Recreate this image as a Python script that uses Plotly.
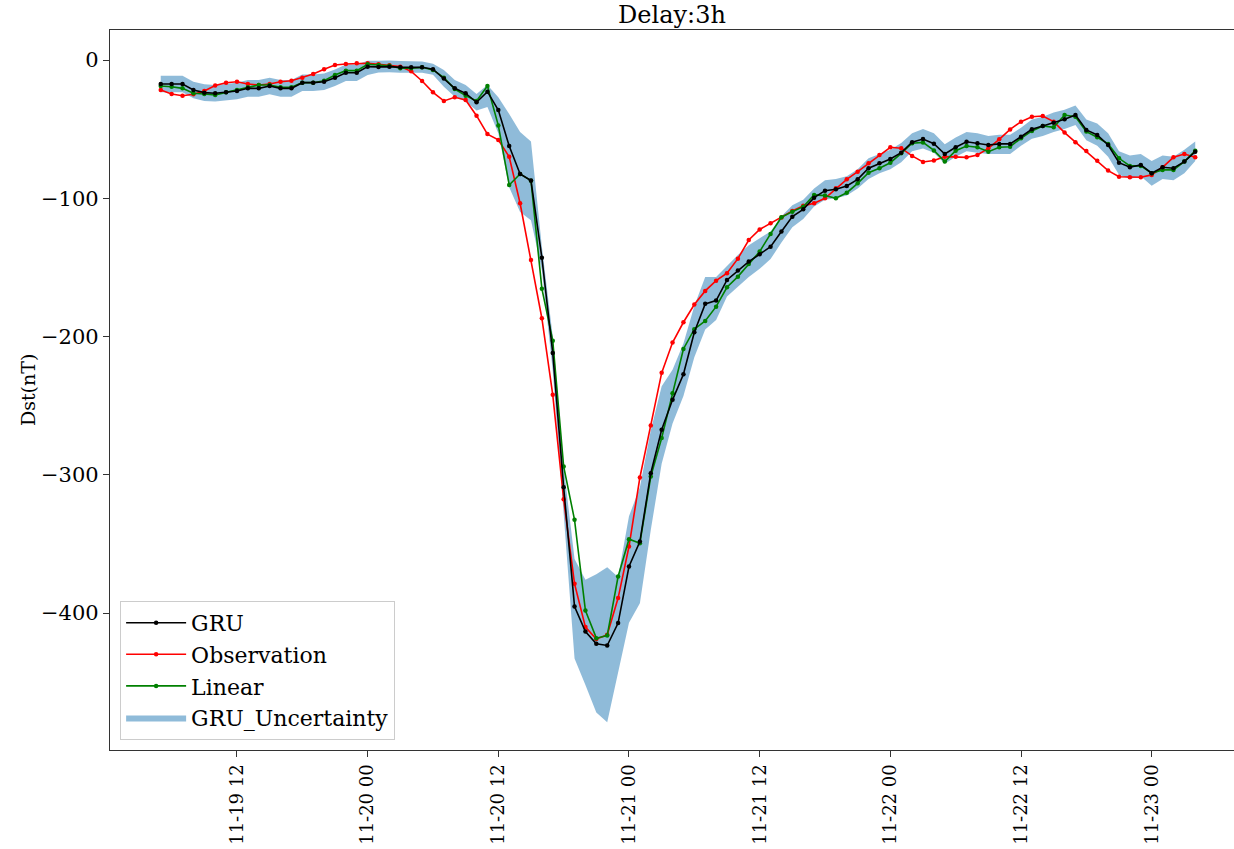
import pandas as pd
import plotly.graph_objects as go

# ---- data (hourly, starting 2003-11-19 05:00) ----
start_time = "2003-11-19 05:00"
n_hours = 96

gru = [
    -17.4, -17.4, -17.4, -21.7, -23.6, -24.1, -23.4, -22.4, -20.5, -20.5,
    -18.8, -20.5, -20.5, -16.4, -16.4, -15.7, -12.8, -9.2, -9.2, -4.8,
    -5.0, -4.8, -5.3, -5.3, -5.3, -6.7, -13.3, -20.5, -24.1, -30.6,
    -22.9, -36.2, -62.2, -82.4, -87.2, -143.0, -212.0, -309.0, -395.3, -413.4,
    -422.3, -423.5, -407.3, -366.4, -348.3, -298.9, -267.5, -245.8, -227.3, -196.9,
    -176.4, -174.0, -159.1, -152.3, -145.8, -140.5, -135.0, -124.0, -113.3, -108.0,
    -99.6, -94.5, -93.5, -91.1, -86.3, -78.3, -74.7, -71.6, -67.0, -59.5,
    -57.2, -60.5, -68.0, -63.1, -59.1, -60.2, -61.5, -60.7, -60.7, -55.5,
    -50.1, -47.7, -45.3, -42.9, -39.8, -50.6, -54.2, -61.5, -74.3, -77.6,
    -75.9, -81.9, -77.6, -78.3, -73.5, -66.3,
]

observation = [
    -21.7, -24.6, -25.8, -24.8, -22.4, -18.5, -16.4, -15.7, -17.4, -18.1,
    -17.4, -15.7, -15.0, -12.8, -10.1, -6.7, -3.6, -2.9, -2.4, -2.4,
    -3.1, -3.8, -4.8, -8.2, -15.2, -23.4, -29.6, -27.0, -28.9, -40.3,
    -53.6, -57.8, -70.0, -103.6, -144.6, -186.8, -242.2, -317.7, -378.9, -410.2,
    -418.9, -415.8, -389.2, -351.9, -302.0, -264.4, -226.3, -204.4, -189.7, -176.9,
    -167.0, -159.6, -154.2, -143.7, -130.2, -122.6, -118.1, -114.0, -109.2, -105.5,
    -103.6, -100.0, -92.8, -86.3, -80.8, -74.7, -68.7, -63.1, -63.8, -69.4,
    -73.8, -72.7, -69.9, -69.9, -70.4, -68.7, -63.9, -57.4, -50.2, -44.6,
    -41.0, -40.5, -44.6, -52.5, -59.5, -65.8, -72.8, -80.0, -84.4, -84.8,
    -84.8, -83.1, -77.6, -70.4, -68.0, -70.4,
]

linear = [
    -18.8, -19.3, -20.5, -24.1, -24.6, -25.3, -23.4, -21.7, -19.7, -18.1,
    -18.1, -19.7, -19.7, -16.4, -16.4, -15.0, -10.8, -7.7, -7.7, -3.1,
    -3.6, -4.1, -6.0, -6.0, -5.3, -7.2, -12.8, -21.0, -25.8, -29.6,
    -18.8, -47.3, -90.4, -82.4, -87.3, -165.4, -203.0, -294.0, -332.6, -398.2,
    -418.2, -416.3, -373.6, -346.6, -349.5, -301.3, -273.5, -241.0, -209.0, -194.7,
    -188.7, -178.4, -164.4, -156.7, -147.5, -138.6, -125.8, -113.7, -109.7, -106.1,
    -97.6, -98.1, -100.0, -96.0, -89.2, -81.5, -78.3, -74.3, -67.5, -60.2,
    -59.6, -65.4, -73.5, -65.6, -62.2, -63.1, -66.3, -63.1, -62.7, -56.6,
    -51.3, -47.7, -48.7, -39.8, -41.0, -51.8, -55.9, -60.7, -71.1, -76.6,
    -76.6, -81.9, -79.5, -79.5, -73.5, -65.6,
]

gru_upper = [
    -11.4, -11.4, -11.4, -15.7, -17.6, -18.1, -17.4, -16.4, -14.5, -14.5,
    -12.8, -14.5, -14.5, -10.4, -10.4, -9.7, -6.8, -3.2, -3.2, -0.5,
    -0.5, -0.3, -0.8, -0.8, -1.0, -2.7, -7.3, -14.5, -18.1, -24.6,
    -18.0, -27.0, -39.0, -52.0, -59.0, -135.0, -200.0, -294.0, -361.0, -376.0,
    -372.0, -367.0, -374.0, -330.0, -309.0, -268.0, -236.0, -224.0, -205.0, -178.0,
    -157.0, -157.0, -149.0, -141.0, -134.0, -129.0, -124.0, -113.0, -105.0, -101.0,
    -93.0, -87.0, -86.0, -84.0, -79.0, -71.0, -68.0, -65.0, -60.0, -53.0,
    -50.0, -53.0, -61.0, -56.0, -52.0, -53.0, -55.0, -54.0, -54.0, -49.0,
    -43.0, -41.0, -38.0, -36.0, -33.0, -43.0, -46.0, -53.0, -66.0, -69.0,
    -68.0, -73.0, -69.0, -70.0, -65.0, -59.0,
]

gru_lower = [
    -23.4, -23.4, -23.4, -27.7, -29.6, -30.1, -29.4, -28.4, -26.5, -26.5,
    -24.8, -26.5, -26.5, -22.4, -22.4, -21.7, -18.8, -15.2, -15.2, -10.8,
    -9.0, -8.8, -9.3, -9.3, -9.3, -10.7, -19.3, -26.5, -30.1, -36.6,
    -34.0, -53.0, -92.0, -110.0, -116.0, -152.0, -225.0, -328.0, -433.0, -452.0,
    -472.0, -479.0, -444.0, -407.0, -393.0, -340.0, -292.0, -263.0, -243.0, -215.0,
    -195.0, -188.0, -171.0, -164.0, -157.0, -151.0, -144.0, -132.0, -121.0, -115.0,
    -106.0, -101.0, -100.0, -98.0, -93.0, -86.0, -82.0, -79.0, -74.0, -66.0,
    -64.0, -67.0, -75.0, -70.0, -66.0, -67.0, -68.0, -68.0, -68.0, -62.0,
    -57.0, -55.0, -52.0, -50.0, -47.0, -58.0, -62.0, -70.0, -83.0, -86.0,
    -84.0, -91.0, -86.0, -87.0, -82.0, -73.0,
]

tick_times = [
    "2003-11-19 12:00", "2003-11-20 00:00", "2003-11-20 12:00", "2003-11-21 00:00",
    "2003-11-21 12:00", "2003-11-22 00:00", "2003-11-22 12:00", "2003-11-23 00:00",
]
tick_labels = [
    "11-19 12", "11-20 00", "11-20 12", "11-21 00",
    "11-21 12", "11-22 00", "11-22 12", "11-23 00",
]
y_ticks = [0, -100, -200, -300, -400]

times = pd.date_range(start_time, periods=n_hours, freq="h")
t0 = pd.Timestamp(start_time)
x_range = [t0 - pd.Timedelta(hours=4.66), t0 + pd.Timedelta(hours=98.56)]

FONT = "DejaVu Serif"

fig = go.Figure()

fig.add_trace(go.Scatter(
    x=times, y=gru_lower, mode="lines", line=dict(width=0, color="rgba(31,119,180,0)"),
    showlegend=False, hoverinfo="skip",
))
fig.add_trace(go.Scatter(
    x=times, y=gru_upper, mode="lines", line=dict(width=0, color="rgba(31,119,180,0)"),
    fill="tonexty", fillcolor="rgba(31,119,180,0.5)", name="GRU_Uncertainty",
    legendrank=4,
))
fig.add_trace(go.Scatter(
    x=times, y=observation, mode="lines+markers", name="Observation",
    line=dict(color="red", width=1.6), marker=dict(color="red", size=4.5),
    legendrank=2,
))
fig.add_trace(go.Scatter(
    x=times, y=linear, mode="lines+markers", name="Linear",
    line=dict(color="green", width=1.6), marker=dict(color="green", size=4.5),
    legendrank=3,
))
fig.add_trace(go.Scatter(
    x=times, y=gru, mode="lines+markers", name="GRU",
    line=dict(color="black", width=1.6), marker=dict(color="black", size=4.5),
    legendrank=1,
))

fig.update_layout(
    width=1234, height=849,
    margin=dict(l=110, r=0, t=30, b=99),
    paper_bgcolor="white", plot_bgcolor="white",
    font=dict(family=FONT, color="black", size=21),
    title=dict(text="Delay:3h", x=0.5, xref="paper", xanchor="center",
               y=1 - 15 / 849, yref="container", yanchor="middle",
               font=dict(family=FONT, size=24, color="black")),
    showlegend=True,
    legend=dict(
        x=0.009, y=0.014, xanchor="left", yanchor="bottom",
        bgcolor="rgba(255,255,255,0.8)", bordercolor="#cccccc", borderwidth=1,
        font=dict(family=FONT, size=22, color="black"),
        traceorder="normal", itemwidth=60, tracegroupgap=0,
    ),
    xaxis=dict(
        type="date", range=x_range,
        tickmode="array", tickvals=tick_times, ticktext=tick_labels,
        tickangle=-90, ticks="outside", ticklen=6, tickcolor="#333",
        showgrid=False, zeroline=False,
        showline=True, linecolor="#333", linewidth=1.2, mirror=True,
        tickfont=dict(family=FONT, size=18, color="black"),
        automargin=False,
    ),
    yaxis=dict(
        range=[-499.1, 21.7],
        tickmode="array", tickvals=y_ticks,
        ticks="outside", ticklen=6, tickcolor="#333",
        showgrid=False, zeroline=False,
        showline=True, linecolor="#333", linewidth=1.2,
        tickfont=dict(family=FONT, size=21, color="black"),
        automargin=False,
    ),
    annotations=[dict(
        text="Dst(nT)", textangle=-90, xref="paper", yref="paper",
        x=(28 - 110) / 1124, y=0.5, xanchor="center", yanchor="middle",
        showarrow=False, font=dict(family=FONT, size=19, color="black"),
    )],
)

fig.write_html("out.html")
